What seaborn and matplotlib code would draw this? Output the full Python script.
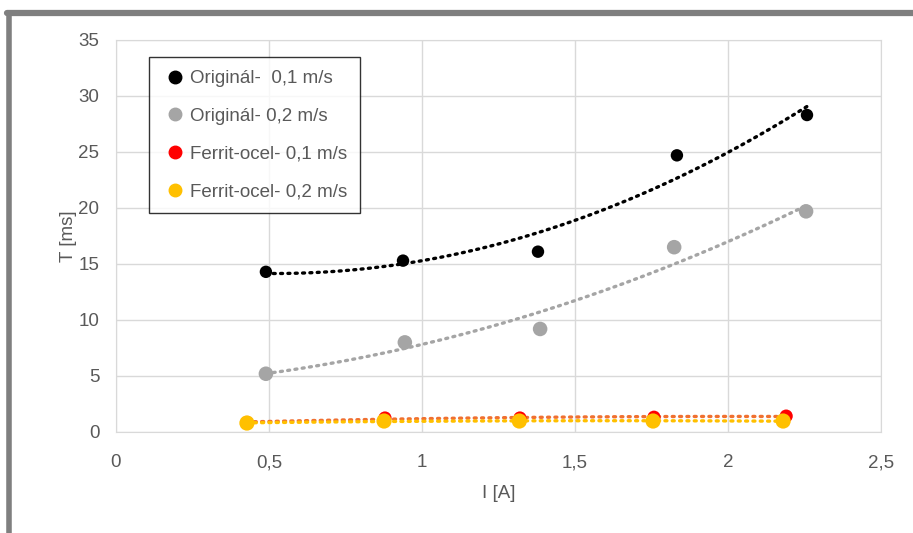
import numpy as np
import pandas as pd
import seaborn as sns
import matplotlib.pyplot as plt
from matplotlib.lines import Line2D

# values
series_names = ["Originál-  0,1 m/s", "Originál- 0,2 m/s",
                "Ferrit-ocel- 0,1 m/s", "Ferrit-ocel- 0,2 m/s"]
orig_01_I = [0.49, 0.938, 1.379, 1.833, 2.258]
orig_01_T = [14.3, 15.3, 16.1, 24.7, 28.3]
orig_02_I = [0.49, 0.944, 1.386, 1.824, 2.255]
orig_02_T = [5.2, 8.0, 9.2, 16.5, 19.7]
ferr_01_I = [0.428, 0.879, 1.32, 1.758, 2.19]
ferr_01_T = [0.85, 1.25, 1.25, 1.32, 1.42]
ferr_02_I = [0.428, 0.876, 1.318, 1.755, 2.18]
ferr_02_T = [0.8, 0.98, 0.98, 0.98, 0.98]

point_colors = ["#000000", "#A5A5A5", "#FF0000", "#FFC000"]
trend_colors = ["#000000", "#A5A5A5", "#F07030", "#FFC000"]
point_sizes = [80, 110, 90, 120]

xs = [orig_01_I, orig_02_I, ferr_01_I, ferr_02_I]
ys = [orig_01_T, orig_02_T, ferr_01_T, ferr_02_T]

df = pd.concat([pd.DataFrame({"I": x, "T": y, "serie": n})
                for x, y, n in zip(xs, ys, series_names)], ignore_index=True)

sns.set_style("white")
plt.rcParams["font.family"] = ["Liberation Sans Narrow", "Liberation Sans", "DejaVu Sans"]
text_col = "#595959"

fig = plt.figure(figsize=(9.13, 5.33), dpi=100)
ax = fig.add_axes([0.127, 0.1895, 0.838, 0.7355])

# polynomial trendlines (order 2), as Excel does
for x, y, c in zip(xs, ys, trend_colors):
    coef = np.polyfit(x, y, 2)
    xx = np.linspace(min(x), max(x), 100)
    ax.plot(xx, np.polyval(coef, xx), color=c, lw=2.4,
            linestyle=(0, (0.6, 1.6)), dash_capstyle="round", zorder=2)

for name, c, s in zip(series_names, point_colors, point_sizes):
    sub = df[df["serie"] == name]
    sns.scatterplot(data=sub, x="I", y="T", color=c, s=s, edgecolor="none",
                    ax=ax, zorder=3, legend=False)

ax.set_xlim(0, 2.5)
ax.set_ylim(0, 35)
ax.set_xticks(np.arange(0, 2.51, 0.5))
ax.set_yticks(np.arange(0, 36, 5))
ax.set_xticklabels([f"{v:g}".replace(".", ",") for v in np.arange(0, 2.51, 0.5)])
ax.grid(True, color="#D9D9D9", lw=1)
ax.set_axisbelow(True)
for sp in ax.spines.values():
    sp.set_color("#D9D9D9")
ax.tick_params(axis="both", length=0, labelsize=13.5, colors=text_col)
ax.tick_params(axis="y", pad=12)
ax.tick_params(axis="x", pad=16)
ax.set_xlabel("I [A]", fontsize=13.5, color=text_col, labelpad=10)
ax.set_ylabel("T [ms]", fontsize=13.5, color=text_col, labelpad=1)

handles = [Line2D([], [], marker="o", linestyle="none", color=c, markersize=9)
           for c in point_colors]
leg = ax.legend(handles, series_names, loc="upper left",
                bbox_to_anchor=(0.043, 0.957), frameon=True,
                prop={"family": ["Liberation Sans", "DejaVu Sans"], "size": 13.5},
                fancybox=False, edgecolor="black", labelspacing=1.1,
                handletextpad=0.1, handlelength=1.4, borderpad=0.7,
                borderaxespad=0)
leg.get_frame().set_linewidth(1)
for t in leg.get_texts():
    t.set_color(text_col)

# gray border of the chart area
fig.add_artist(Line2D([0.0098, 0.0098], [0, 0.975], color="#7F7F7F", lw=4,
                      transform=fig.transFigure))
fig.add_artist(Line2D([0.0075, 1], [0.975, 0.975], color="#7F7F7F", lw=4.5,
                      transform=fig.transFigure))

fig.savefig("out.png", dpi=100)
